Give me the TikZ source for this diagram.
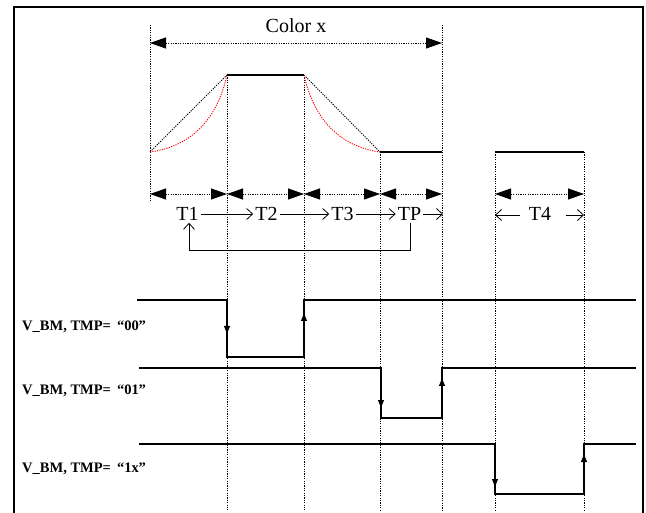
\documentclass[tikz,border=0pt]{standalone}
\usepackage{fontspec}
\setmainfont{Liberation Serif}
\usetikzlibrary{arrows.meta}
\tikzset{
  frameline/.style={line width=1.8pt},
  guide/.style={line width=0.9pt, dash pattern=on 1.2pt off 1.2pt},
  dimline/.style={line width=0.9pt, dash pattern=on 1.2pt off 1.2pt, {Triangle[length=16pt,width=11pt]}-{Triangle[length=16pt,width=11pt]}},
  wave/.style={line width=1.4pt},
  ramp/.style={line width=0.9pt, dash pattern=on 1.2pt off 1.2pt},
  redramp/.style={line width=0.9pt, dash pattern=on 1.2pt off 1.2pt, red},
  flowarrow/.style={line width=0.8pt, -{Straight Barb[length=6pt,width=11pt]}},
  signal/.style={line width=2.4pt},
  sigtip/.style={line width=1pt, -{Latex[length=9pt,width=6.5pt]}},
  bigtext/.style={font=\fontsize{20}{22}\selectfont, inner sep=2pt},
  siglabel/.style={font=\bfseries\fontsize{14.5}{16}\selectfont, inner sep=0pt, anchor=west}
}
\begin{document}
\begin{tikzpicture}[x=1pt,y=-1pt]
\useasboundingbox (0,0) rectangle (646,513);
% frame
\draw[frameline] (14,513) -- (14,7) -- (643,7) -- (643,513);

% guide lines
\draw[guide] (150,25) -- (150,202);
\draw[guide] (227,75) -- (227,510);
\draw[guide] (304,75) -- (304,510);
\draw[guide] (380,152) -- (380,510);
\draw[guide] (442,25) -- (442,510);
\draw[guide] (495,152) -- (495,510);
\draw[guide] (584,152) -- (584,510);

% Color x dimension
\node[bigtext] (colx) at (296,26) {Color x};
\coordinate (cl) at (150,43);
\coordinate (cr) at (442,43);
\draw[dimline] (cl) -- (cr);

% top waveform
\coordinate (w0) at (150,152);
\coordinate (w1) at (227,75);
\coordinate (w2) at (304,75);
\coordinate (w3) at (380,152);
\coordinate (w4) at (442,152);
\coordinate (w5) at (495,152);
\coordinate (w6) at (584,152);
\draw[ramp] (w0) -- (w1);
\draw[redramp] (w0) .. controls (187,147) and (216,124) .. (w1);
\draw[wave] (w1) -- (w2);
\draw[ramp] (w2) -- (w3);
\draw[redramp] (w2) .. controls (315,124) and (344,147) .. (w3);
\draw[wave] (w3) -- (w4);
\draw[wave] (w5) -- (w6);

% T dimension arrows
\coordinate (d1) at (150,194);
\coordinate (d2) at (227,194);
\coordinate (d3) at (304,194);
\coordinate (d4) at (380,194);
\coordinate (d5) at (442,194);
\coordinate (d6) at (495,194);
\coordinate (d7) at (584,194);
\draw[dimline] (d1) -- (d2);
\draw[dimline] (d2) -- (d3);
\draw[dimline] (d3) -- (d4);
\draw[dimline] (d4) -- (d5);
\draw[dimline] (d6) -- (d7);

% T labels
\node[bigtext] (T1) at (187.5,214) {T1};
\node[bigtext] (T2) at (266.5,214) {T2};
\node[bigtext] (T3) at (342.5,214) {T3};
\node[bigtext] (TP) at (409.5,214) {TP};
\node[bigtext] (T4) at (540,214) {T4};
\coordinate (tpend) at (443,214);
\coordinate (t4l) at (495,215);
\coordinate (t4r) at (584,215);
\coordinate (t4la) at (520,215);
\coordinate (t4ra) at (566,215);
\coordinate (loopy) at (0,250);
\draw[flowarrow] (T1) -- (T2);
\draw[flowarrow] (T2) -- (T3);
\draw[flowarrow] (T3) -- (TP);
\draw[flowarrow] (TP) -- (tpend);
\draw[flowarrow] ([xshift=0.5pt]TP.south) -- ([xshift=0.5pt]TP.south |- loopy) -| ([xshift=1.5pt]T1.south);
\draw[flowarrow] (t4la) -- (t4l);
\draw[flowarrow] (t4ra) -- (t4r);

% signal labels
\node[siglabel] (L00) at (22,327) {V\_BM, TMP=\hspace{6pt}“00”};
\node[siglabel] (L01) at (22,391) {V\_BM, TMP=\hspace{6pt}“01”};
\node[siglabel] (L1x) at (22,469) {V\_BM, TMP=\hspace{6pt}“1x”};

% signals
\draw[signal] (137,300) -- (227,300) -- (227,357) -- (304,357) -- (304,300) -- (636,300);
\draw[sigtip] (227,322) -- (227,335);
\draw[sigtip] (304,325) -- (304,312);

\draw[signal] (139,368) -- (381,368) -- (381,418) -- (442,418) -- (442,368) -- (636,368);
\draw[sigtip] (381,396) -- (381,409);
\draw[sigtip] (442,390) -- (442,377);

\draw[signal] (139,444) -- (495,444) -- (495,494) -- (584,494) -- (584,444) -- (636,444);
\draw[sigtip] (495,475) -- (495,488);
\draw[sigtip] (584,466) -- (584,453);
\end{tikzpicture}
\end{document}
